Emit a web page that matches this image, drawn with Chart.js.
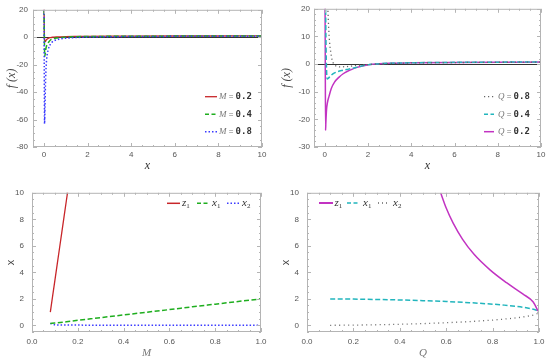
<!DOCTYPE html>
<html>
<head>
<meta charset="utf-8">
<script src="https://cdn.jsdelivr.net/npm/chart.js@4.4.0/dist/chart.umd.min.js"></script>
<style>
  body { margin: 0; background: #fff; width: 550px; height: 361px; position: relative; overflow: hidden; }
  canvas { position: absolute; }
</style>
</head>
<body>
<canvas id="c1" width="275" height="180" style="left:0;top:0"></canvas>
<canvas id="c2" width="275" height="180" style="left:275px;top:0"></canvas>
<canvas id="c3" width="275" height="181" style="left:0;top:180px"></canvas>
<canvas id="c4" width="275" height="181" style="left:275px;top:180px"></canvas>
<script>
/* values */

// top left: f(x) for three M values
var xM02 = [0.005, 0.02, 0.04, 0.07, 0.1, 0.15, 0.2, 0.3, 0.4, 0.6, 1, 1.5, 2, 3, 4, 6, 8, 10];
var yM02 = [25, 3, -2.5, -3.2, -2.2, -1.3, -0.8, -0.3, 0, 0.25, 0.5, 0.62, 0.7, 0.8, 0.85, 0.9, 0.92, 0.94];
var xM04 = [0.005, 0.02, 0.04, 0.06, 0.1, 0.15, 0.2, 0.3, 0.4, 0.6, 1, 1.5, 2, 3, 4, 6, 8, 10];
var yM04 = [25, 0, -14, -12, -7.5, -5.5, -4, -2, -1.2, -0.5, 0.1, 0.4, 0.5, 0.65, 0.75, 0.82, 0.87, 0.9];
var xM08 = [0.005, 0.015, 0.03, 0.05, 0.08, 0.12, 0.2, 0.3, 0.4, 0.6, 0.8, 1, 1.5, 2, 3, 4, 6, 8, 10];
var yM08 = [25, -20, -63, -50, -30, -17, -9, -5, -3.2, -1.8, -1.1, -0.7, -0.2, 0.1, 0.35, 0.5, 0.65, 0.72, 0.78];

// top right: f(x) for three Q values
var xQ08 = [0.1, 0.14, 0.18, 0.22, 0.27, 0.33, 0.4, 0.5, 0.7, 1, 1.5, 2, 3, 4, 6, 8, 10];
var yQ08 = [28, 20, 13, 8, 4.5, 1.8, 0.2, -0.6, -1.0, -0.9, -0.5, -0.2, 0.2, 0.4, 0.55, 0.65, 0.7];
var xQ04 = [0.03, 0.06, 0.09, 0.11, 0.18, 0.3, 0.45, 0.6, 0.8, 1.0, 1.25, 1.5, 1.85, 2.2, 3, 4, 6, 8, 10];
var yQ04 = [25, 5, -4, -5.4, -5, -4, -3.2, -2.7, -2.3, -2.0, -1.6, -1.1, -0.45, -0.05, 0.3, 0.47, 0.62, 0.7, 0.74];
var xQ02 = [0.01, 0.02, 0.035, 0.05, 0.08, 0.12, 0.2, 0.3, 0.45, 0.65, 0.85, 1.05, 1.25, 1.5, 1.85, 2.2, 3, 4, 6, 8, 10];
var yQ02 = [25, 5, -24, -21, -16.5, -14, -11.5, -8.8, -6.5, -4.8, -3.5, -2.6, -1.9, -1.2, -0.5, -0.1, 0.3, 0.45, 0.6, 0.68, 0.72];

// bottom left: roots against M
var mZ = [0.08, 0.09, 0.1, 0.11, 0.12, 0.13, 0.14, 0.15, 0.16];
var z1M = [1.0, 2.2, 3.4, 4.6, 5.8, 7.0, 8.2, 9.4, 10.6];
var mVals = [0.08, 0.1, 0.15, 0.2, 0.3, 0.4, 0.5, 0.6, 0.7, 0.8, 0.9, 1.0];
var x1M = [0.15, 0.18, 0.27, 0.38, 0.58, 0.79, 0.99, 1.19, 1.4, 1.6, 1.8, 2.0];
var x2M = [0.15, 0.04, 0.025, 0.02, 0.015, 0.012, 0.01, 0.008, 0.007, 0.006, 0.005, 0.005];

// bottom right: roots against Q
var qZ = [0.576, 0.6, 0.63, 0.67, 0.72, 0.79, 0.86, 0.93, 0.975, 0.996];
var z1Q = [10, 8.85, 7.71, 6.51, 5.36, 4.17, 3.22, 2.37, 1.76, 1.07];
var qVals = [0.1, 0.2, 0.3, 0.4, 0.5, 0.6, 0.7, 0.8, 0.85, 0.9, 0.95, 0.98, 0.99, 0.996];
var x1Q = [1.995, 1.98, 1.954, 1.917, 1.866, 1.8, 1.714, 1.6, 1.527, 1.436, 1.312, 1.2, 1.14, 1.08];
var x2Q = [0.005, 0.02, 0.046, 0.083, 0.134, 0.2, 0.286, 0.4, 0.473, 0.564, 0.688, 0.8, 0.86, 0.92];

// ticks and legend labels
var topXTicks = [0, 2, 4, 6, 8, 10];
var tlYTicks = [-80, -60, -40, -20, 0, 20];
var trYTicks = [-30, -20, -10, 0, 10, 20];
var botXTicks = [0, 0.2, 0.4, 0.6, 0.8, 1.0];
var botYTicks = [0, 2, 4, 6, 8, 10];
var mLabels = ['0.2', '0.4', '0.8'];
var qLabels = ['0.8', '0.4', '0.2'];
var rootLabels = [['z', '1'], ['x', '1'], ['x', '2']];

Chart.defaults.font.family = 'Liberation Sans';

var RED = '#c8262a', GREEN = '#1fae1f', BLUE = '#3a3aff';
var MAG = '#c233c2', CYAN = '#22b5bd', GRAY = '#666666';
var DASH = [5, 2.5], DOT = [1.5, 2];

function pts(xs, ys) {
  return xs.map(function (x, i) { return { x: x, y: ys[i] }; });
}

function line(xs, ys, color, dash, width) {
  return {
    data: pts(xs, ys),
    borderColor: color,
    borderDash: dash,
    borderWidth: width,
    pointRadius: 0,
    fill: false,
    cubicInterpolationMode: 'monotone'
  };
}

function ticksAlong(min, max, step, majors, fn) {
  var n0 = Math.ceil(min / step - 1e-9), n1 = Math.floor(max / step + 1e-9);
  for (var n = n0; n <= n1; n++) {
    var v = n * step;
    var major = majors.some(function (m) { return Math.abs(m - v) < 1e-9; });
    fn(v, major ? 4 : 2);
  }
}

// frame with inward ticks + legend, mathematica style
function frame(c) {
  return {
    id: 'frame',
    afterDraw: function (chart) {
      var a = chart.chartArea, ctx = chart.ctx, xs = chart.scales.x, ys = chart.scales.y;
      ctx.save();
      ctx.setLineDash([]);
      ctx.strokeStyle = '#b4b4b4';
      ctx.lineWidth = 1;
      ctx.strokeRect(a.left + 0.5, a.top + 0.5, a.right - a.left - 1, a.bottom - a.top - 1);
      ctx.beginPath();
      ticksAlong(c.xMin, c.xMax, c.xMinor, c.xTicks, function (v, len) {
        var p = Math.round(xs.getPixelForValue(v)) + 0.5;
        ctx.moveTo(p, a.bottom); ctx.lineTo(p, a.bottom - len);
        ctx.moveTo(p, a.top); ctx.lineTo(p, a.top + len);
      });
      ticksAlong(c.yMin, c.yMax, c.yMinor, c.yTicks, function (v, len) {
        var p = Math.round(ys.getPixelForValue(v)) + 0.5;
        ctx.moveTo(a.left, p); ctx.lineTo(a.left + len, p);
        ctx.moveTo(a.right, p); ctx.lineTo(a.right - len, p);
      });
      ctx.stroke();

      c.legend.forEach(function (it) {
        ctx.beginPath();
        ctx.strokeStyle = it.color;
        ctx.lineWidth = it.lw;
        ctx.setLineDash(it.dash);
        ctx.moveTo(it.x, it.y);
        ctx.lineTo(it.x + it.w, it.y);
        ctx.stroke();
        var tx = it.tx;
        ctx.textBaseline = 'middle';
        ctx.textAlign = 'left';
        it.parts.forEach(function (p) {
          ctx.font = p.f;
          ctx.fillStyle = p.c;
          ctx.fillText(p.t, tx, it.y + (p.dy || 0));
          tx += ctx.measureText(p.t).width;
        });
      });
      ctx.restore();
    }
  };
}

function makeChart(id, c) {
  var canvas = document.getElementById(id);
  var H = canvas.height, W = canvas.width;
  return new Chart(canvas.getContext('2d'), {
    type: 'line',
    data: { datasets: c.datasets },
    options: {
      responsive: false,
      animation: false,
      devicePixelRatio: 1,
      layout: { padding: { top: c.box.t, right: W - c.box.r, left: 0, bottom: 0 } },
      plugins: { legend: { display: false }, tooltip: { enabled: false } },
      scales: {
        x: {
          type: 'linear', min: c.xMin, max: c.xMax,
          afterBuildTicks: function (s) { s.ticks = c.xTicks.map(function (v) { return { value: v }; }); },
          afterFit: function (s) { s.height = H - c.box.b; },
          grid: { display: false, drawTicks: false },
          border: { display: false },
          ticks: { autoSkip: false, maxRotation: 0, padding: c.xPad, font: { size: 8 }, color: '#555', callback: c.xFmt },
          title: { display: true, text: c.xTitle, font: c.xTitleFont, color: c.xTitleColor, padding: { top: 0, bottom: c.xTitlePad } }
        },
        y: {
          type: 'linear', min: c.yMin, max: c.yMax,
          afterBuildTicks: function (s) { s.ticks = c.yTicks.map(function (v) { return { value: v }; }); },
          afterFit: function (s) { s.width = c.box.l; },
          grid: {
            display: c.zero, drawTicks: false, lineWidth: 1,
            color: function (ctx) { return ctx.tick && ctx.tick.value === 0 ? '#333' : 'rgba(0,0,0,0)'; }
          },
          border: { display: false },
          ticks: { autoSkip: false, padding: c.yPad, font: { size: 8 }, color: '#555', callback: function (v) { return String(v); } },
          title: { display: true, text: c.yTitle, font: c.yTitleFont, color: '#444', padding: { top: c.yTitlePad, bottom: 0 } }
        }
      }
    },
    plugins: [frame(c)]
  });
}

function eqParts(sym, val) {
  return [
    { t: sym, f: 'italic 9px "Liberation Serif"', c: '#777' },
    { t: ' = ', f: '8px "Liberation Sans"', c: '#777' },
    { t: val, f: 'bold 9px "DejaVu Sans Mono"', c: '#333' }
  ];
}
function rootParts(r) {
  return [
    { t: r[0], f: 'italic 11px "Liberation Serif"', c: '#333' },
    { t: r[1], f: '7px "Liberation Serif"', c: '#333', dy: 3 }
  ];
}

var rowsY = [96.7, 114.3, 131.7];
var italicTitle = { family: 'Liberation Serif', style: 'italic', size: 12 };
var sansTitle = { family: 'Liberation Sans', size: 11 };

makeChart('c1', {
  datasets: [
    line(xM08, yM08, BLUE, DOT, 1.5),
    line(xM04, yM04, GREEN, DASH, 1.5),
    line(xM02, yM02, RED, [], 1.3)
  ],
  box: { l: 33, r: 262, t: 7, b: 147 },
  xMin: -0.5, xMax: 10, yMin: -80, yMax: 20,
  xTicks: topXTicks, yTicks: tlYTicks, xMinor: 0.5, yMinor: 5,
  xPad: 3, yPad: 5, xFmt: function (v) { return String(v); },
  xTitle: 'x', xTitleFont: italicTitle, xTitleColor: '#333', xTitlePad: 6.5,
  yTitle: 'f (x)', yTitleFont: italicTitle, yTitlePad: 5, zero: true,
  legend: [
    { x: 205, y: rowsY[0], w: 12, tx: 219, color: RED, dash: [], lw: 1.3, parts: eqParts('M', mLabels[0]) },
    { x: 205, y: rowsY[1], w: 12, tx: 219, color: GREEN, dash: [4, 2.5], lw: 1.5, parts: eqParts('M', mLabels[1]) },
    { x: 205, y: rowsY[2], w: 12, tx: 219, color: BLUE, dash: DOT, lw: 1.5, parts: eqParts('M', mLabels[2]) }
  ]
});

makeChart('c2', {
  datasets: [
    line(xQ08, yQ08, GRAY, [1.2, 2.8], 1.3),
    line(xQ04, yQ04, CYAN, DASH, 1.5),
    line(xQ02, yQ02, MAG, [], 1.5)
  ],
  box: { l: 39, r: 266, t: 7, b: 147 },
  xMin: -0.5, xMax: 10, yMin: -30, yMax: 20,
  xTicks: topXTicks, yTicks: trYTicks, xMinor: 0.5, yMinor: 2,
  xPad: 3, yPad: 4, xFmt: function (v) { return String(v); },
  xTitle: 'x', xTitleFont: italicTitle, xTitleColor: '#333', xTitlePad: 6.5,
  yTitle: 'f (x)', yTitleFont: italicTitle, yTitlePad: 5, zero: true,
  legend: [
    { x: 209, y: rowsY[0], w: 10, tx: 223, color: GRAY, dash: [1.2, 2.8], lw: 1.3, parts: eqParts('Q', qLabels[0]) },
    { x: 209, y: rowsY[1], w: 10, tx: 223, color: CYAN, dash: [4, 2.5], lw: 1.5, parts: eqParts('Q', qLabels[1]) },
    { x: 209, y: rowsY[2], w: 10, tx: 223, color: MAG, dash: [], lw: 1.5, parts: eqParts('Q', qLabels[2]) }
  ]
});

makeChart('c3', {
  datasets: [
    line(mZ, z1M, RED, [], 1.3),
    line(mVals, x1M, GREEN, DASH, 1.5),
    line(mVals, x2M, BLUE, DOT, 1.5)
  ],
  box: { l: 32, r: 261, t: 8, b: 152 },
  xMin: 0, xMax: 1, yMin: -0.5, yMax: 10,
  xTicks: botXTicks, yTicks: botYTicks, xMinor: 0.05, yMinor: 0.5,
  xPad: 5, yPad: 8, xFmt: function (v) { return v.toFixed(1); },
  xTitle: 'M', xTitleFont: { family: 'Liberation Serif', style: 'italic', size: 11 }, xTitleColor: '#777', xTitlePad: 1,
  yTitle: 'x', yTitleFont: sansTitle, yTitlePad: 4.5, zero: false,
  legend: [
    { x: 167, y: 23.3, w: 13, tx: 182, color: RED, dash: [], lw: 1.5, parts: rootParts(rootLabels[0]) },
    { x: 197, y: 23.3, w: 13, tx: 212, color: GREEN, dash: [4, 2.5], lw: 1.5, parts: rootParts(rootLabels[1]) },
    { x: 227, y: 23.3, w: 13, tx: 242, color: BLUE, dash: DOT, lw: 1.5, parts: rootParts(rootLabels[2]) }
  ]
});

makeChart('c4', {
  datasets: [
    line(qZ, z1Q, MAG, [], 1.5),
    line(qVals, x1Q, CYAN, DASH, 1.5),
    line(qVals, x2Q, GRAY, [1, 3.5], 1.3)
  ],
  box: { l: 32, r: 264, t: 8, b: 152 },
  xMin: 0, xMax: 1, yMin: -0.5, yMax: 10,
  xTicks: botXTicks, yTicks: botYTicks, xMinor: 0.05, yMinor: 0.5,
  xPad: 5, yPad: 8, xFmt: function (v) { return v.toFixed(1); },
  xTitle: 'Q', xTitleFont: { family: 'Liberation Serif', style: 'italic', size: 11 }, xTitleColor: '#777', xTitlePad: 1,
  yTitle: 'x', yTitleFont: sansTitle, yTitlePad: 4.5, zero: false,
  legend: [
    { x: 44, y: 23, w: 14, tx: 59.5, color: MAG, dash: [], lw: 2, parts: rootParts(rootLabels[0]) },
    { x: 72, y: 23, w: 13, tx: 88, color: CYAN, dash: [4, 2.5], lw: 1.5, parts: rootParts(rootLabels[1]) },
    { x: 103, y: 23, w: 12, tx: 118, color: GRAY, dash: [1, 3], lw: 1.3, parts: rootParts(rootLabels[2]) }
  ]
});
</script>
</body>
</html>
